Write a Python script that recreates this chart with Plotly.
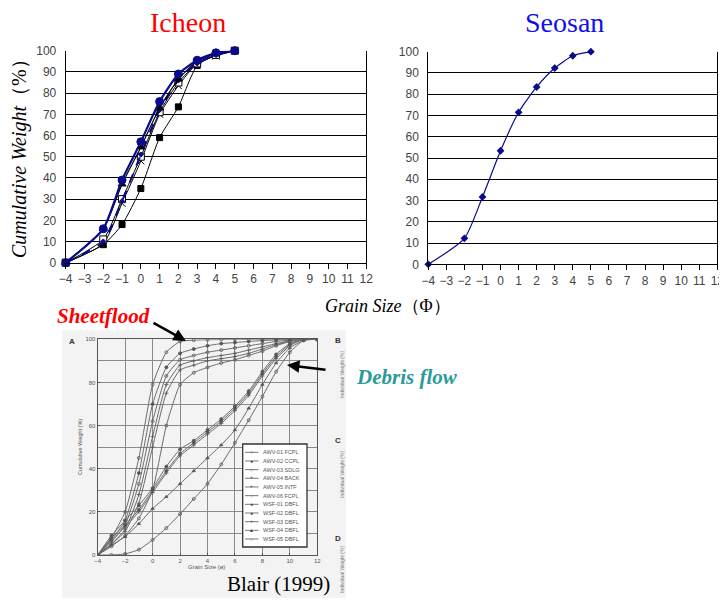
import plotly.graph_objects as go

# page body has an 8px default margin; the figure is sized so that it fills the window exactly
OFF = 8
W, H = 727 - OFF, 600 - OFF

# ---------------- data ----------------
icheon_x = [-4, -2, -1, 0, 1, 2, 3, 4, 5]
ich_circles = [0, 16, 39, 57, 76, 89, 95.5, 99, 100]
ich_triangles = [0, 16, 37, 54.5, 73, 86.5, 95, 98.5, 100]
ich_dashed = [0, 10, 29, 51, 72, 86, 94, 98, 100]
ich_open_sq = [0, 11, 30, 50, 71, 85, 94, 98, 100]
ich_x = [0, 9, 28, 48, 70, 83.5, 94, 97.5, 100]
ich_filled_sq = [0, 8.5, 18, 35, 59, 73.5, 93, 98, 100]

seosan_x = [-4, -2, -1, 0, 1, 2, 3, 4, 5]
seosan_y = [0, 12.2, 31.7, 53.4, 71.5, 83.4, 92.3, 98.1, 100]

x_ticks = list(range(-4, 13))
y_ticks = list(range(0, 101, 10))

blair_x = [-4, -3, -2, -1, 0, 1, 2, 3, 4, 5, 6, 7, 8, 9, 10, 11, 12]
blair_names = ["AWV-01 FCPL", "AWV-02 CCPL", "AWV-03 SDLG", "AWV-04 BACK",
               "AWV-05 INTF", "AWV-06 FCPL", "WSF-01 DBFL", "WSF-02 DBFL",
               "WSF-03 DBFL", "WSF-04 DBFL", "WSF-05 DBFL"]
blair_y = [
    [0, 8, 20, 45, 79, 94, 99, 99.6, 99.8, 99.9, 100, 100, 100, 100, 100, 100, 100],
    [0, 7, 16, 38, 70, 87, 93.5, 95.5, 97, 98, 98.5, 99, 99.4, 99.7, 100, 100, 100],
    [0, 6, 14, 33, 62, 83, 90.5, 92.5, 94, 95, 96, 97, 98, 99, 99.6, 100, 100],
    [0, 5, 12, 28, 55, 79, 88, 90, 91.5, 92.5, 93.5, 95, 96.5, 98, 99.3, 100, 100],
    [0, 5, 11, 24, 50, 75, 85.8, 88, 90, 91, 92, 93.5, 95.5, 97.5, 99, 100, 100],
    [0, 4, 9, 17, 30, 60, 79, 84.5, 87, 89, 90.5, 92.5, 94.5, 97, 99, 100, 100],
    [0, 9, 16, 23, 31, 41, 49, 53, 58, 63, 69, 76, 85, 93, 98, 100, 100],
    [0, 8, 14, 21, 30, 39, 47, 52, 57, 62, 68, 75, 84, 92, 97.5, 100, 100],
    [0, 7, 13, 20, 29, 38, 46, 51, 56, 61, 67, 74, 83, 91, 97, 100, 100],
    [0, 4.5, 8.5, 14.5, 21.5, 27, 33, 39, 45, 51, 58, 68, 79, 89, 96, 99.5, 100],
    [0, 0, 0.5, 2.5, 7, 12.5, 19, 26, 33, 42, 52, 62.5, 73.5, 85, 94, 99.5, 100],
]
blair_symbols = ["circle-open", "circle", "circle-open", "cross-thin", "cross-thin",
                 "circle-open", "circle", "circle", "cross-thin", "triangle-up", "circle-open"]
blair_legend_glyph = ["○", "●", "○", "+", "+", "○", "●", "●", "+", "▲", "○"]
blair_xticks = list(range(-4, 13, 2))
blair_yticks = list(range(0, 101, 20))

# ---------------- helpers (window pixel -> paper fraction) ----------------
def px(x):
    return (x - OFF) / W

def py(y):
    return 1 - (y - OFF) / H

def dom_x(a, b):
    return [px(a), px(b)]

def dom_y(top, bottom):
    return [py(bottom), py(top)]

NAVY = "#0a0a8c"
fig = go.Figure()

# ---------------- Icheon ----------------
def ich(y, color, width, symbol, size, mcolor, dash="solid", mline=None):
    fig.add_trace(go.Scatter(
        x=icheon_x, y=y, mode="lines+markers", xaxis="x", yaxis="y",
        line=dict(color=color, width=width, shape="spline", smoothing=0.6, dash=dash),
        marker=dict(symbol=symbol, size=size, color=mcolor,
                    line=dict(color=mline or mcolor, width=1)),
        cliponaxis=False, showlegend=False))

ich(ich_filled_sq, "#000000", 1, "square", 6, "#000000")
ich(ich_x, "#000000", 1, "x-thin", 7, "#000000")
ich(ich_open_sq, "#000000", 1, "square", 7, "#ffffff", mline="#000000")
ich(ich_dashed, NAVY, 2, "diamond", 4, NAVY, dash="dash")
ich(ich_triangles, "#000000", 1.2, "triangle-up", 7, "#000000")
ich(ich_circles, NAVY, 2.2, "circle", 8, NAVY)

# ---------------- Seosan ----------------
fig.add_trace(go.Scatter(
    x=seosan_x, y=seosan_y, mode="lines+markers", xaxis="x2", yaxis="y2",
    line=dict(color=NAVY, width=1.2, shape="spline", smoothing=0.6),
    marker=dict(symbol="diamond", size=6, color=NAVY),
    cliponaxis=False, showlegend=False))

# ---------------- Blair (1999) ----------------
for name, yv, sym in zip(blair_names, blair_y, blair_symbols):
    fig.add_trace(go.Scatter(
        x=blair_x, y=yv, mode="lines+markers", xaxis="x3", yaxis="y3", name=name,
        line=dict(color="#6a6a6a", width=1, shape="spline", smoothing=0.5),
        marker=dict(symbol=sym, size=3, color="#555555", line=dict(color="#555555", width=0.8)),
        showlegend=False))

tickfont = dict(family="Liberation Sans, Arial", size=12, color="#444444")

def top_xaxis(domain, anchor):
    return dict(domain=domain, anchor=anchor, range=[-4, 12], tickvals=x_ticks,
                showgrid=False, zeroline=False, showline=True, linecolor="#000",
                linewidth=1, ticks="outside", ticklen=5, tickcolor="#000",
                tickfont=tickfont, mirror=False, fixedrange=True, automargin=False)

def top_yaxis(domain, anchor):
    return dict(domain=domain, anchor=anchor, range=[0, 100], tickvals=y_ticks,
                showgrid=True, gridcolor="#000", gridwidth=1, zeroline=False,
                showline=True, linecolor="#000", linewidth=1, mirror=True,
                ticks="", tickfont=tickfont, ticklabelstandoff=6, automargin=False)

small = dict(family="Liberation Sans, Arial", size=6, color="#555")

fig.update_layout(
    width=W, height=H, autosize=False,
    margin=dict(l=0, r=0, t=0, b=0, autoexpand=False),
    paper_bgcolor="white", plot_bgcolor="rgba(0,0,0,0)",
    showlegend=False,
    xaxis=top_xaxis(dom_x(65.7, 366.2), "y"),
    yaxis=top_yaxis(dom_y(50.7, 262.7), "x"),
    xaxis2=top_xaxis(dom_x(428.3, 717.3), "y2"),
    yaxis2=top_yaxis(dom_y(51.7, 264.3), "x2"),
    xaxis3=dict(domain=dom_x(97.7, 317.3), anchor="y3", range=[-4, 12], automargin=False,
                tickvals=blair_xticks, showgrid=True, gridcolor="#8a8a8a", gridwidth=0.8,
                zeroline=False, showline=True, linecolor="#555", linewidth=1.2, mirror=True,
                ticks="inside", ticklen=2, tickcolor="#555", tickfont=small),
    yaxis3=dict(domain=dom_y(339.3, 555), anchor="x3", range=[0, 100], automargin=False,
                tickvals=blair_yticks, showgrid=True, gridcolor="#8a8a8a", gridwidth=0.8,
                minor=dict(dtick=10, showgrid=True, gridcolor="#8a8a8a", gridwidth=0.8),
                zeroline=False, showline=True, linecolor="#555", linewidth=1.2, mirror=True,
                ticks="inside", ticklen=2, tickcolor="#555", tickfont=small),
)

shapes = []
# scan background
shapes.append(dict(type="rect", xref="paper", yref="paper", layer="below",
                   x0=px(62), x1=px(346), y0=py(598), y1=py(330),
                   fillcolor="#f3f3f3", line=dict(width=0)))
# legend box
lx0, lx1, ly0, ly1 = 242.7, 307, 444, 547
shapes.append(dict(type="rect", xref="paper", yref="paper", layer="above",
                   x0=px(lx0), x1=px(lx1), y0=py(ly1), y1=py(ly0),
                   fillcolor="white", line=dict(color="#333", width=1.3)))

annotations = []
row0, row_gap = 452.3, 8.67
for i, (name, g) in enumerate(zip(blair_names, blair_legend_glyph)):
    yy = row0 + i * row_gap
    shapes.append(dict(type="line", xref="paper", yref="paper", layer="above",
                       x0=px(245), x1=px(258.5), y0=py(yy), y1=py(yy),
                       line=dict(color="#555", width=0.8)))
    annotations.append(dict(xref="paper", yref="paper", x=px(251.7), y=py(yy),
                            text=g, showarrow=False, font=dict(size=5, color="#444"),
                            xanchor="center", yanchor="middle"))
    annotations.append(dict(xref="paper", yref="paper", x=px(261), y=py(yy),
                            text=name, showarrow=False,
                            font=dict(family="Liberation Sans", size=5.5, color="#555"),
                            xanchor="left", yanchor="middle"))

serif = "Liberation Serif, Times New Roman, serif"
annotations += [
    dict(xref="paper", yref="paper", x=px(187.5), y=py(22), text="Icheon",
         showarrow=False, font=dict(family=serif, size=28, color="#ff0000"),
         xanchor="center", yanchor="middle", borderpad=0),
    dict(xref="paper", yref="paper", x=px(564), y=py(22), text="Seosan",
         showarrow=False, font=dict(family=serif, size=28, color="#1010ee"),
         xanchor="center", yanchor="middle", borderpad=0),
    dict(xref="paper", yref="paper", x=px(19), y=py(154), text="<i>Cumulative Weight</i>（%）",
         textangle=-90, showarrow=False, font=dict(family=serif, size=20, color="#000"),
         xanchor="center", yanchor="middle"),
    dict(xref="paper", yref="paper", x=px(387.5), y=py(306), text="<i>Grain Size</i>（Φ）",
         showarrow=False, font=dict(family=serif, size=18, color="#000"),
         xanchor="center", yanchor="middle"),
    dict(xref="paper", yref="paper", x=px(103.5), y=py(316), text="<b><i>Sheetflood</i></b>",
         showarrow=False, font=dict(family=serif, size=21, color="#ff0000"),
         xanchor="center", yanchor="middle"),
    dict(xref="paper", yref="paper", x=px(407), y=py(377), text="<b><i>Debris flow</i></b>",
         showarrow=False, font=dict(family=serif, size=21, color="#2a9a9a"),
         xanchor="center", yanchor="middle"),
    dict(xref="paper", yref="paper", x=px(278), y=py(584), text="Blair (1999)",
         showarrow=False, font=dict(family=serif, size=21, color="#000"),
         xanchor="center", yanchor="middle"),
    # arrows
    dict(xref="paper", yref="paper", x=px(186), y=py(341), ax=-34, ay=-19,
         axref="pixel", ayref="pixel", text="", showarrow=True, arrowhead=2,
         arrowsize=1, arrowwidth=2.5, arrowcolor="#000"),
    dict(xref="paper", yref="paper", x=px(287), y=py(365), ax=40, ay=5,
         axref="pixel", ayref="pixel", text="", showarrow=True, arrowhead=2,
         arrowsize=1, arrowwidth=2.5, arrowcolor="#000"),
    # scan decorations
    dict(xref="paper", yref="paper", x=px(206), y=py(567), text="Grain Size (ø)",
         showarrow=False, font=dict(family="Liberation Sans", size=6, color="#555"),
         xanchor="center", yanchor="middle"),
    dict(xref="paper", yref="paper", x=px(80), y=py(447), text="Cumulative Weight (%)",
         textangle=-90, showarrow=False, font=dict(family="Liberation Sans", size=5.5, color="#555"),
         xanchor="center", yanchor="middle"),
]
for letter, (xx, yy) in zip(["A", "B", "C", "D"], [(72, 341), (338, 340), (338, 440), (338, 538)]):
    annotations.append(dict(xref="paper", yref="paper", x=px(xx), y=py(yy), text="<b>%s</b>" % letter,
                            showarrow=False, font=dict(family="Liberation Sans", size=8, color="#333"),
                            xanchor="center", yanchor="middle"))
for yy in (375, 475, 570):
    annotations.append(dict(xref="paper", yref="paper", x=px(342), y=py(yy), text="Individual Weight (%)",
                            textangle=-90, showarrow=False,
                            font=dict(family="Liberation Sans", size=5, color="#777"),
                            xanchor="center", yanchor="middle"))

fig.update_layout(shapes=shapes, annotations=annotations)
fig.write_html("out.html")
